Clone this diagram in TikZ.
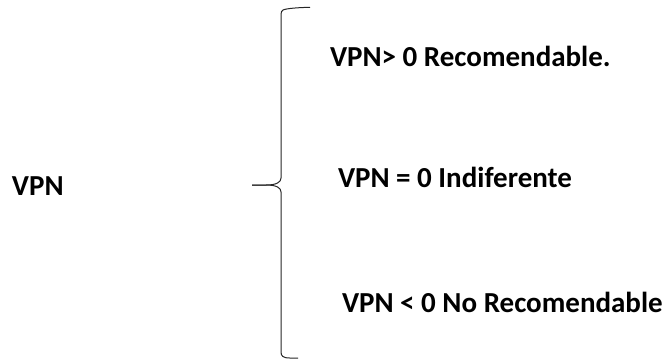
\documentclass[tikz,border=0pt]{standalone}
\usepackage{fontspec}
\setmainfont{Carlito}
\tikzset{
  lbl/.style={anchor=base west, inner sep=0pt, outer sep=0pt, font=\bfseries\fontsize{29}{35}\selectfont, text=black},
  bracestyle/.style={draw=black!85, line width=1pt, line join=round}
}
\begin{document}
\begin{tikzpicture}[x=1pt, y=-1pt]
\useasboundingbox (0,0) rectangle (668,360);
\node[lbl] (vpn) at (12,195) {VPN};
\node[lbl] (pos) at (330,66) {VPN> 0 Recomendable.};
\node[lbl] (zero) at (338,187) {VPN = 0 Indiferente};
\node[lbl] (neg) at (342,312) {VPN < 0 No Recomendable};
\coordinate (tip) at (252,185);
\coordinate (top) at (310,7.3);
\coordinate (bot) at (298,358);
\draw[bracestyle] (top) .. controls (298,7.5) and (286,8.5) .. (283,10) .. controls (281.5,11) and (281,12) .. (281,15)
  -- (281,178) .. controls (281,182) and (277,185) .. (266,185) -- (tip);
\draw[bracestyle] (tip) -- (266,185) .. controls (277,185) and (281,188) .. (281,192)
  -- (281,352) .. controls (281,356) and (283,358) .. (290,358) -- (bot);
\end{tikzpicture}
\end{document}
